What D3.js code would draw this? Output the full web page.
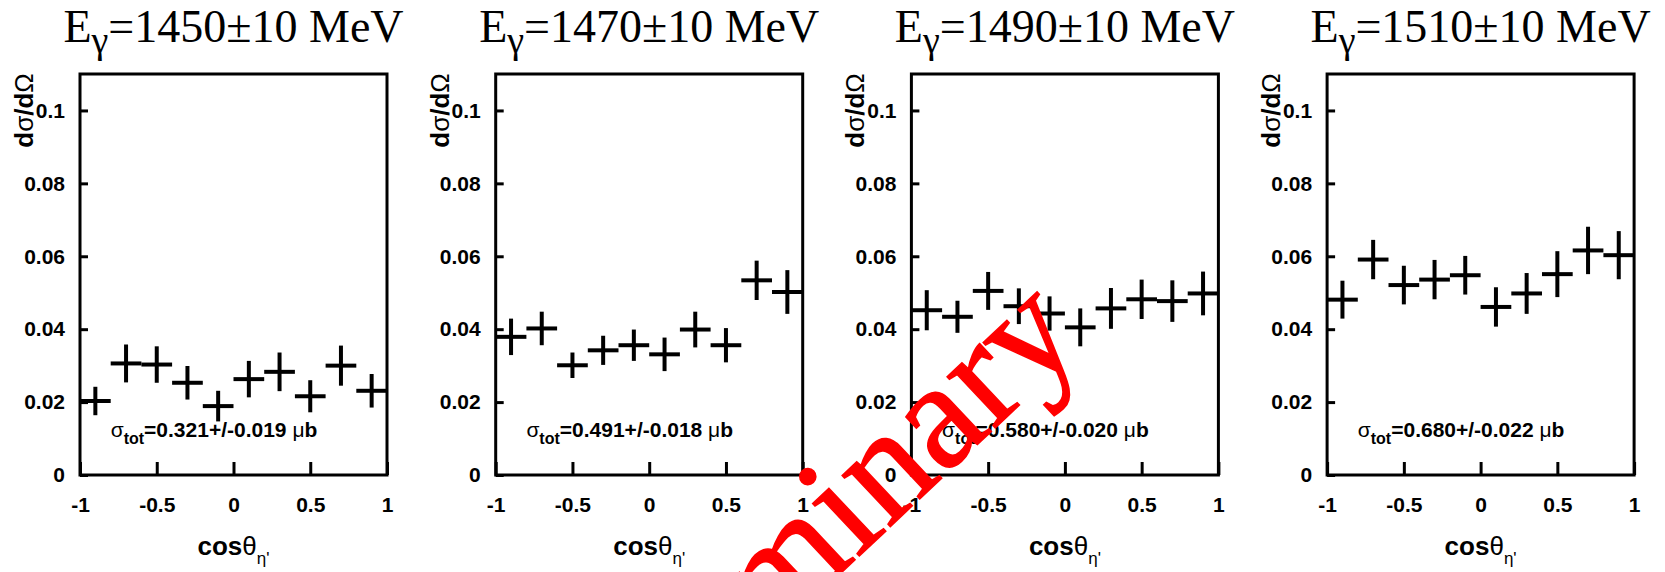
<!DOCTYPE html>
<html>
<head>
<meta charset="utf-8">
<script src="https://cdn.jsdelivr.net/npm/d3@7/dist/d3.min.js"></script>
<style>
  html, body { margin: 0; padding: 0; background: #fff; }
  svg { display: block; }
</style>
</head>
<body>
<svg id="chart" width="1665" height="572"></svg>
<script>
// Beam energy bins (MeV) and cos(theta) bin centres
const energies = [1450, 1470, 1490, 1510];
const cosBins = [-0.9, -0.7, -0.5, -0.3, -0.1, 0.1, 0.3, 0.5, 0.7, 0.9];
const binHalfWidth = 0.1;

// Differential cross sections dσ/dΩ and their errors, one array per energy bin
const xs1450 = [0.0203, 0.0306, 0.0303, 0.0253, 0.0189, 0.0263, 0.0283, 0.0216, 0.0300, 0.0231];
const err1450 = [0.0039, 0.0052, 0.0050, 0.0046, 0.0042, 0.0050, 0.0053, 0.0044, 0.0055, 0.0046];
const xs1470 = [0.0379, 0.0402, 0.0301, 0.0342, 0.0356, 0.0331, 0.0399, 0.0356, 0.0534, 0.0502];
const err1470 = [0.0050, 0.0046, 0.0035, 0.0040, 0.0043, 0.0046, 0.0049, 0.0047, 0.0054, 0.0060];
const xs1490 = [0.0452, 0.0434, 0.0505, 0.0463, 0.0443, 0.0405, 0.0457, 0.0482, 0.0477, 0.0498];
const err1490 = [0.0055, 0.0044, 0.0052, 0.0049, 0.0047, 0.0052, 0.0056, 0.0054, 0.0057, 0.0060];
const xs1510 = [0.0481, 0.0591, 0.0521, 0.0536, 0.0548, 0.0461, 0.0498, 0.0551, 0.0616, 0.0603];
const err1510 = [0.0052, 0.0054, 0.0053, 0.0054, 0.0053, 0.0054, 0.0056, 0.0063, 0.0065, 0.0066];

// Total cross sections (μb)
const sigmaTot = ["0.321", "0.491", "0.580", "0.680"];
const sigmaErr = ["0.019", "0.018", "0.020", "0.022"];

// Axis ticks and their printed labels
const xTicks = [-1, -0.5, 0, 0.5, 1];
const xTickLabels = ["-1", "-0.5", "0", "0.5", "1"];
const yTicks = [0, 0.02, 0.04, 0.06, 0.08, 0.1];
const yTickLabels = ["0", "0.02", "0.04", "0.06", "0.08", "0.1"];
const yDomain = [0, 0.11];

const panels = [
  { e: energies[0], v: xs1450, err: err1450, tot: sigmaTot[0], totErr: sigmaErr[0] },
  { e: energies[1], v: xs1470, err: err1470, tot: sigmaTot[1], totErr: sigmaErr[1] },
  { e: energies[2], v: xs1490, err: err1490, tot: sigmaTot[2], totErr: sigmaErr[2] },
  { e: energies[3], v: xs1510, err: err1510, tot: sigmaTot[3], totErr: sigmaErr[3] }
];

const svg = d3.select("#chart");
svg.append("rect").attr("width", 1665).attr("height", 572).attr("fill", "#fff");

const sans = "'Liberation Sans', Arial, Helvetica, sans-serif";
const serif = "'Liberation Serif', 'Times New Roman', serif";

const frameLeft0 = 80, panelStep = 415.7, frameW = 307;
const frameTop = 74, frameBottom = 475;

const y = d3.scaleLinear().domain(yDomain).range([frameBottom, frameTop]);

panels.forEach((p, i) => {
  const left = frameLeft0 + i * panelStep;
  const x = d3.scaleLinear().domain([-1, 1]).range([left, left + frameW]);
  const cx = left + frameW / 2;
  const g = svg.append("g");

  // Title
  const t = g.append("text")
    .attr("x", cx).attr("y", 42)
    .attr("text-anchor", "middle")
    .attr("font-family", serif).attr("font-size", 46).attr("fill", "#000");
  t.append("tspan").text("E");
  t.append("tspan").attr("font-size", 38).attr("dy", 11).text("γ");
  t.append("tspan").attr("dy", -11).text(`=${p.e}±10 MeV`);

  // Y axis (ticks point inward)
  const yAxis = d3.axisLeft(y).tickValues(yTicks).tickSizeInner(-8).tickSizeOuter(0)
    .tickPadding(15).tickFormat((d, k) => yTickLabels[k]);
  const ya = g.append("g").attr("transform", `translate(${left},0)`).call(yAxis);
  ya.select(".domain").remove();
  ya.selectAll(".tick line").attr("stroke", "#000").attr("stroke-width", 3);
  ya.selectAll(".tick text").attr("font-family", sans).attr("font-weight", "bold")
    .attr("font-size", 21).attr("fill", "#000");

  // X axis (ticks point inward)
  const xAxis = d3.axisBottom(x).tickValues(xTicks).tickSizeInner(-13).tickSizeOuter(0)
    .tickPadding(22).tickFormat((d, k) => xTickLabels[k]);
  const xa = g.append("g").attr("transform", `translate(0,${frameBottom})`).call(xAxis);
  xa.select(".domain").remove();
  xa.selectAll(".tick line").attr("stroke", "#000").attr("stroke-width", 3);
  xa.selectAll(".tick text").attr("font-family", sans).attr("font-weight", "bold")
    .attr("font-size", 21).attr("fill", "#000");

  // Frame
  g.append("rect")
    .attr("x", x(-1)).attr("y", y(yDomain[1]))
    .attr("width", x(1) - x(-1)).attr("height", y(0) - y(yDomain[1]))
    .attr("fill", "none").attr("stroke", "#000").attr("stroke-width", 3);

  // Data crosses: horizontal bin width, vertical statistical error
  const pts = cosBins.map((c, k) => ({ c, v: p.v[k], e: p.err[k] }));
  const marks = g.append("g").attr("stroke", "#000").attr("stroke-width", 4);
  marks.selectAll("line.h").data(pts).join("line").attr("class", "h")
    .attr("x1", d => x(d.c - binHalfWidth)).attr("x2", d => x(d.c + binHalfWidth))
    .attr("y1", d => y(d.v)).attr("y2", d => y(d.v));
  marks.selectAll("line.v").data(pts).join("line").attr("class", "v")
    .attr("x1", d => x(d.c)).attr("x2", d => x(d.c))
    .attr("y1", d => y(d.v - d.e)).attr("y2", d => y(d.v + d.e));

  // Total cross section label
  const s = g.append("text")
    .attr("x", x(-0.8)).attr("y", y(0.0105))
    .attr("font-family", sans).attr("font-weight", "bold").attr("font-size", 21).attr("fill", "#000");
  s.append("tspan").attr("font-weight", "normal").text("σ");
  s.append("tspan").attr("font-size", 16).attr("dy", 7).text("tot");
  s.append("tspan").attr("dy", -7).text(`=${p.tot}+/-${p.totErr} `);
  s.append("tspan").attr("font-weight", "normal").text("μ");
  s.append("tspan").text("b");

  // X axis title
  const xt = g.append("text")
    .attr("x", cx).attr("y", 555).attr("text-anchor", "middle")
    .attr("font-family", sans).attr("font-size", 26).attr("fill", "#000");
  xt.append("tspan").attr("font-weight", "bold").text("cos");
  xt.append("tspan").attr("font-weight", "normal").text("θ");
  xt.append("tspan").attr("font-size", 17).attr("dy", 9).text("η'");

  // Y axis title
  const yt = g.append("text")
    .attr("transform", `translate(${left - 47},${y(0.1)}) rotate(-90)`)
    .attr("text-anchor", "middle")
    .attr("font-family", sans).attr("font-weight", "bold").attr("font-size", 26).attr("fill", "#000");
  yt.append("tspan").text("d");
  yt.append("tspan").attr("font-weight", "normal").text("σ");
  yt.append("tspan").text("/d");
  yt.append("tspan").attr("font-weight", "normal").text("Ω");
});

// Red "Preliminary" stamp running up across the middle panels
svg.append("text")
  .attr("transform", "translate(560,838) rotate(-43.3)")
  .attr("font-family", serif).attr("font-size", 153)
  .attr("fill", "#ff0000").attr("stroke", "#ff0000").attr("stroke-width", 1.5)
  .text("Preliminary");
</script>
</body>
</html>
